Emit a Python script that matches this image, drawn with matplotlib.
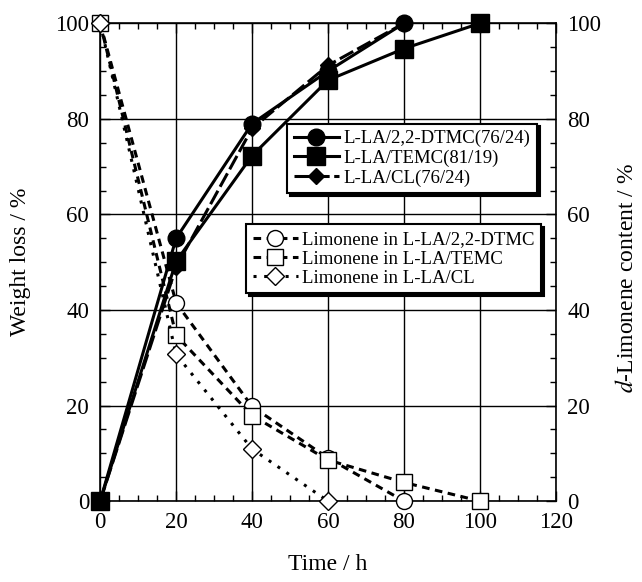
import numpy as np
import matplotlib as mpl
mpl.use('Agg')
import matplotlib.pyplot as plt
from matplotlib.ticker import MultipleLocator

plt.rcParams['font.family'] = ['Liberation Serif', 'DejaVu Serif']
plt.rcParams['mathtext.fontset'] = 'stix'

# weight loss
t_dtmc = [0, 20, 40, 60, 80]
w_dtmc = [0, 55, 79, 90, 100]
t_temc = [0, 20, 40, 60, 80, 100]
w_temc = [0, 50.2, 72.3, 88.1, 94.7, 100]
t_cl = [0, 20, 40, 60, 80]
w_cl = [0, 49, 78, 91.2, 100]

# limonene content
lt_dtmc = [0, 20, 40, 60, 80]
l_dtmc = [100, 41.5, 19.8, 9, 0]
lt_temc = [0, 20, 40, 60, 80, 100]
l_temc = [100, 34.7, 17.9, 8.6, 3.9, 0]
lt_cl = [0, 20, 40, 60]
l_cl = [100, 30.7, 10.9, 0]

fig = plt.figure(figsize=(6.42, 5.82), dpi=100)
ax = fig.add_axes([0.156, 0.139, 0.710, 0.821])

# limonene (open markers)
h4, = ax.plot(lt_dtmc, l_dtmc, color='k', lw=2.2, dashes=(2.5, 1.8), marker='o',
              ms=11.5, mfc='white', mec='k', mew=1, clip_on=False,
              label='Limonene in L-LA/2,2-DTMC', zorder=3)
h5, = ax.plot(lt_temc, l_temc, color='k', lw=2.2, dashes=(2.5, 1.8), marker='s',
              ms=12, mfc='white', mec='k', mew=1, clip_on=False,
              label='Limonene in L-LA/TEMC', zorder=3)
h6, = ax.plot(lt_cl, l_cl, color='k', lw=2.2, dashes=(1, 2.5), marker='D',
              ms=9.5, mfc='white', mec='k', mew=1, clip_on=False,
              label='Limonene in L-LA/CL', zorder=3)

# weight loss (filled markers)
h1, = ax.plot(t_dtmc, w_dtmc, '-', color='k', lw=2.2, marker='o', ms=12,
              clip_on=False, label='L-LA/2,2-DTMC(76/24)', zorder=4)
h2, = ax.plot(t_temc, w_temc, '-', color='k', lw=2.2, marker='s', ms=12.5,
              clip_on=False, label='L-LA/TEMC(81/19)', zorder=4)
h3, = ax.plot(t_cl, w_cl, color='k', lw=2.2, dashes=(5, 1.5), marker='D', ms=8.5,
              clip_on=False, label='L-LA/CL(76/24)', zorder=4)

ax.set_xlim(0, 120)
ax.set_ylim(0, 100)
ax.xaxis.set_major_locator(MultipleLocator(20))
ax.xaxis.set_minor_locator(MultipleLocator(5))
ax.yaxis.set_major_locator(MultipleLocator(20))
ax.yaxis.set_minor_locator(MultipleLocator(5))
ax.tick_params(which='both', direction='in', top=True, right=True,
               labelright=True, labelsize=16.5, width=1, pad=8)
ax.tick_params(which='major', length=7)
ax.tick_params(which='minor', length=4.5)
ax.grid(True, which='major', color='k', lw=1)
for s in ax.spines.values():
    s.set_linewidth(1.2)

fig.text(0.511, 0.03, 'Time / h', fontsize=17, va='center', ha='center')
fig.text(0.032, 0.55, 'Weight loss / %', rotation=90, fontsize=17,
         va='center', ha='center')
fig.text(0.977, 0.522, r'$\it{d}$-Limonene content / %', rotation=90,
         fontsize=17, va='center', ha='center')

leg1 = ax.legend(handles=[h1, h2, h3], loc='upper left',
                 bbox_to_anchor=(0.41, 0.79), fontsize=13.5, frameon=True,
                 fancybox=False, shadow={'color': 'k', 'alpha': 1},
                 edgecolor='k', framealpha=1, handlelength=2.4,
                 borderpad=0.35, labelspacing=0.12, handletextpad=0.25,
                 borderaxespad=0)
leg1.get_frame().set_linewidth(1.5)
ax.add_artist(leg1)
leg2 = ax.legend(handles=[h4, h5, h6], loc='upper left',
                 bbox_to_anchor=(0.32, 0.579), fontsize=13.5, frameon=True,
                 fancybox=False, shadow={'color': 'k', 'alpha': 1},
                 edgecolor='k', framealpha=1, handlelength=2.4,
                 borderpad=0.35, labelspacing=0.12, handletextpad=0.25,
                 borderaxespad=0)
leg2.get_frame().set_linewidth(1.5)

plt.savefig('out.png', dpi=100)
